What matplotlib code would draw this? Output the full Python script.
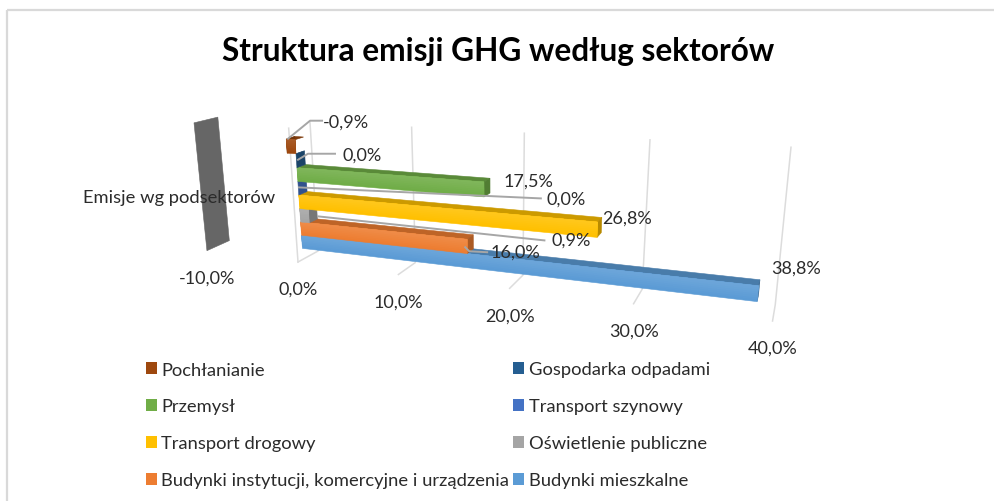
import numpy as np
import matplotlib
matplotlib.use("Agg")
import matplotlib.pyplot as plt
from matplotlib.patches import Polygon, Patch
from matplotlib.colors import to_rgb

plt.rcParams['font.family'] = ['Lato', 'DejaVu Sans']

title = "Struktura emisji GHG według sektorów"
category = "Emisje wg podsektorów"
series = ["Budynki mieszkalne", "Budynki instytucji, komercyjne i urządzenia",
          "Oświetlenie publiczne", "Transport drogowy", "Transport szynowy",
          "Przemysł", "Gospodarka odpadami", "Pochłanianie"]
values = [38.8, 16.0, 0.9, 26.8, 0.0, 17.5, 0.0, -0.9]
colors = ["#5B9BD5", "#ED7D31", "#A5A5A5", "#FFC000", "#4472C4", "#70AD47", "#255E91", "#9E480E"]
ticks = [-10, 0, 10, 20, 30, 40]

W, H = 994, 502
TEXT = "#2b2b2b"
fig = plt.figure(figsize=(W / 100, H / 100), dpi=100)
ax = fig.add_axes([0, 0, 1, 1])
ax.set_xlim(0, W)
ax.set_ylim(H, 0)
ax.axis("off")


def proj(v, d, h):
    """Perspective projection of (value %, depth 0-1, height 0-1) to canvas position."""
    u = np.asarray(v, float) / 40.0
    w = 1 - 0.195 * u + 0.039 * d - 0.045 * h
    return (298 + (382 * u + 20.8 * d - 8.9 * h) / w,
            263 + (47.5 * u - 11.4 * d - 127.8 * h) / w)


def fmt(v):
    return f"{v:.1f}%".replace(".", ",")


def face(pts, color, z, lw=0.4):
    ax.add_patch(Polygon([proj(*p) for p in pts], closed=True, facecolor=color,
                         edgecolor=color if lw else "none", lw=lw, zorder=z))


def shade(c, f):
    c = np.array(to_rgb(c))
    return tuple(c * f) if f <= 1 else tuple(c + (1 - c) * (f - 1))


# frame
ax.plot([7, 7], [H, 11], color="#d9d9d9", lw=1.6, zorder=1, solid_capstyle="butt")
ax.plot([7, W], [11, 11], color="#d9d9d9", lw=1.6, zorder=1, solid_capstyle="butt")

# gridlines
GRID = "#dcdcdc"
for t in ticks[1:]:
    pts = [proj(t, 0, 0), proj(t, 1, 0), proj(t, 1, 1)]
    ax.plot(*zip(*pts), color=GRID, lw=1.1, zorder=2)
ax.plot(*zip(proj(0, 0, 0), proj(0, 0, 1)), color=GRID, lw=1.1, zorder=2)

# value -10 wall
lo = ticks[0]
face([(lo, 0, 0), (lo, 1, 0), (lo, 1, 1), (lo, 0, 1)], "#666666", 3)

# bars, lowest first
D0, D1 = 0.25, 0.65
H0, HS = 0.085, 0.1025
for i, (v, c) in enumerate(zip(values, colors)):
    z = 4 + i
    h0, h1 = H0 + i * HS, H0 + (i + 1) * HS
    face([(0, D0, h1), (v, D0, h1), (v, D1, h1), (0, D1, h1)], shade(c, 0.8), z)
    face([(v, D0, h0), (v, D1, h0), (v, D1, h1), (v, D0, h1)], shade(c, 0.72), z)
    if v != 0:
        # front face: overlapping layers from bottom to top, so no seams appear
        n = 8
        face([(0, D0, h0), (v, D0, h0), (v, D0, h1), (0, D0, h1)], c, z)
        for k in range(1, n):
            a = h0 + (h1 - h0) * k / n
            face([(0, D0, a), (v, D0, a), (v, D0, h1), (0, D0, h1)],
                 shade(c, 1 + 0.12 * k / n), z, lw=0)

# data labels, offsets from the end of each bar
LEAD = "#a6a6a6"
label_off = {0: (37, -18), 1: (48, 12), 2: (263, 30), 3: (29, -4),
             4: (268, 17), 5: (44, -1), 6: (66, 1), 7: (51, -18)}
lead_pts = {1: [(-2, 8), (2, 12), (20, 13)],
            2: [(10, 7), (236, 31)],
            4: [(1, 6), (243, 17)],
            6: [(2, 6), (12, 0), (39, 0)],
            7: [(-7, -1), (15, -19), (27, -19)]}
for i, v in enumerate(values):
    h0, h1 = H0 + i * HS, H0 + (i + 1) * HS
    x, y = proj(v, D0, h1)
    if v < 0:
        x, y = proj(0, D0, h1)
    if i in lead_pts:
        xs = [x + p[0] for p in lead_pts[i]]
        ys = [y + p[1] for p in lead_pts[i]]
        ax.plot(xs, ys, color=LEAD, lw=1.4, zorder=20)
    dx, dy = label_off[i]
    ax.annotate(fmt(v), (x, y), xytext=(dx, -dy), textcoords="offset pixels",
                ha="center", va="center", fontsize=13, color=TEXT, zorder=21)

# axis labels
for t in ticks:
    ax.annotate(fmt(t), proj(t, 0, 0), xytext=(0, -27), textcoords="offset pixels",
                ha="center", va="center", fontsize=13, color=TEXT, zorder=21)
ax.text(275, 198, category, ha="right", va="center", fontsize=13.2, color=TEXT, zorder=21)
ax.text(498, 52, title, ha="center", va="center", fontsize=22.8, fontweight="bold", color="black")

# legend (column-first ordering)
order = [7, 5, 3, 1, 6, 4, 2, 0]
handles = [Patch(facecolor=colors[i], label=series[i]) for i in order]
leg = ax.legend(handles=handles, ncols=2, frameon=False, fontsize=13.2,
                loc="upper left", bbox_to_anchor=(129 / W, 1 - 346 / H),
                bbox_transform=fig.transFigure, labelcolor=TEXT,
                handlelength=0.62, handleheight=0.62, handletextpad=0.25,
                labelspacing=1.14, columnspacing=0.18, borderpad=0.4)

fig.savefig("out.png", dpi=100)
